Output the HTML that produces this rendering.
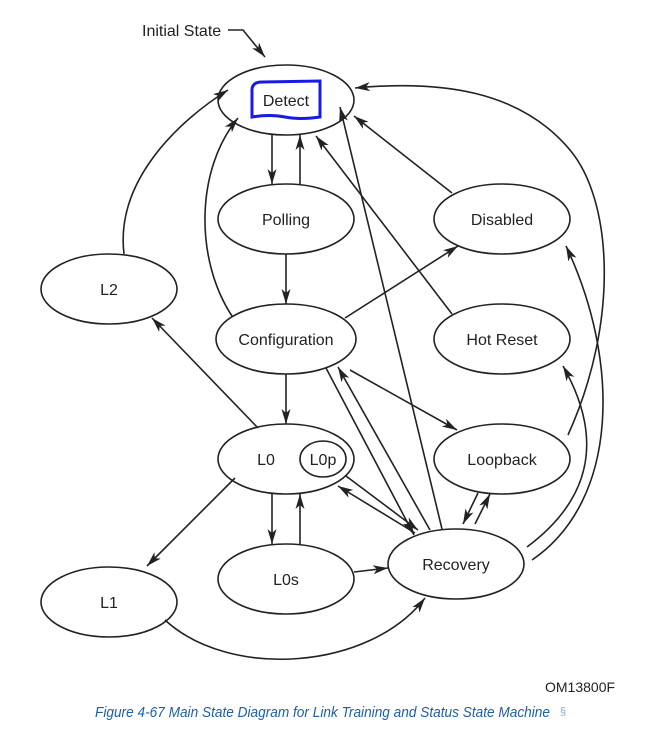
<!DOCTYPE html>
<html><head><meta charset="utf-8"><style>
body{margin:0;background:#fff;width:662px;height:737px;overflow:hidden}
svg{display:block}
text{font-family:"Liberation Sans",Arial,sans-serif;fill:#222}
</style></head><body>
<svg width="662" height="737" viewBox="0 0 662 737">
<defs>
<marker id="a" viewBox="0 0 15 9" refX="15" refY="4.5" markerWidth="15" markerHeight="9" markerUnits="userSpaceOnUse" orient="auto">
<path d="M0,0 L15,4.5 L0,9 L4,4.5 z" fill="#222"/>
</marker>
</defs>
<g fill="none" stroke="#222" stroke-width="1.6">
<ellipse cx="286" cy="100" rx="68" ry="35"/>
<ellipse cx="286" cy="219" rx="68" ry="35"/>
<ellipse cx="502" cy="219" rx="68" ry="35"/>
<ellipse cx="109" cy="289" rx="68" ry="35"/>
<ellipse cx="286" cy="339" rx="70" ry="35"/>
<ellipse cx="502" cy="339" rx="68" ry="35"/>
<ellipse cx="286" cy="459" rx="68" ry="35"/>
<ellipse cx="323" cy="459" rx="23" ry="18"/>
<ellipse cx="502" cy="459" rx="68" ry="35"/>
<ellipse cx="286" cy="579" rx="68" ry="35"/>
<ellipse cx="109" cy="602" rx="68" ry="35"/>
<ellipse cx="456" cy="564" rx="68" ry="35"/>
</g>
<path d="M252,110 L252,90 Q252,82 262,82 L320,81 L320,117 Q300,120 285,117 Q270,114 252,117 Z" fill="none" stroke="#1a1ae6" stroke-width="3"/>
<g fill="none" stroke="#222" stroke-width="1.6" marker-end="url(#a)">
<path d="M228,30 L243,30 L265,57"/>
<path d="M272,135 L272,184"/>
<path d="M300,184 L300,135"/>
<path d="M286,254 L286,304"/>
<path d="M286,374 L286,424"/>
<path d="M272,494 L272,544"/>
<path d="M300,544 L300,494"/>
<path d="M354,572 L388,568"/>
<path d="M415,533 L338,486"/>
<path d="M346,476 L418,530"/>
<path d="M326,368 L414,535"/>
<path d="M430,530 L338,367"/>
<path d="M442,529 L340,107"/>
<path d="M452,314 L316,136"/>
<path d="M452,193 L354,116"/>
<path d="M345,318 L458,246"/>
<path d="M350,370 L457,430"/>
<path d="M478,493 L463,524"/>
<path d="M475,524 L490,494"/>
<path d="M568,435 C620,320 612,200 570,150 C520,90 440,80 355,88"/>
<path d="M532,560 C620,500 620,360 566,246"/>
<path d="M527,547 C590,500 605,440 563,366"/>
<path d="M124,254 C115,180 180,120 228,90"/>
<path d="M232,316 C195,260 195,170 238,118"/>
<path d="M258,428 L152,318"/>
<path d="M235,478 L147,566"/>
<path d="M165,620 C230,680 370,670 425,598"/>
</g>
<g font-size="16" text-anchor="middle">
<text x="286" y="106">Detect</text>
<text x="286" y="225">Polling</text>
<text x="502" y="225">Disabled</text>
<text x="109" y="295">L2</text>
<text x="286" y="345">Configuration</text>
<text x="502" y="345">Hot Reset</text>
<text x="266" y="465">L0</text>
<text x="323" y="465">L0p</text>
<text x="502" y="465">Loopback</text>
<text x="286" y="585">L0s</text>
<text x="109" y="608">L1</text>
<text x="456" y="570">Recovery</text>
</g>
<text x="142" y="36" font-size="16">Initial State</text>
<text x="545" y="692" font-size="14">OM13800F</text>
<text x="95" y="717" font-size="15" font-style="italic" textLength="455" lengthAdjust="spacingAndGlyphs" style="fill:#1d5fa8">Figure 4-67 Main State Diagram for Link Training and Status State Machine</text>
<text x="560" y="715" font-size="11" style="fill:#8aaad0">§</text>
</svg>
</body></html>
